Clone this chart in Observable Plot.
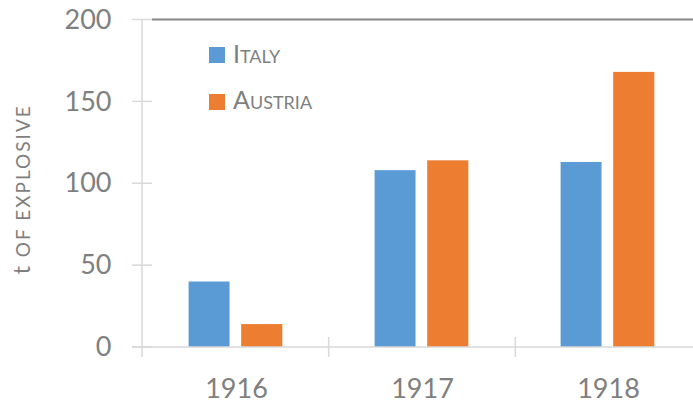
<!DOCTYPE html>
<html><head><meta charset="utf-8">
<script src="https://cdn.jsdelivr.net/npm/d3@7"></script>
<script src="https://cdn.jsdelivr.net/npm/@observablehq/plot@0.6"></script>
<style>
html,body{margin:0;padding:0;overflow:hidden;background:#fff;}
#wrap{position:relative;width:693px;height:401px;overflow:hidden;font-family:Lato, sans-serif;}
#wrap svg{max-width:none !important;}
.sw{position:absolute;width:16px;height:16px;}
.lt{position:absolute;font-size:25px;line-height:30px;font-variant:small-caps;color:#7f7f7f;white-space:nowrap;}
</style></head><body><div id="wrap"></div>
<script>
const years = ["1916", "1917", "1918"];
const italy = [40, 108, 113];
const austria = [14, 114, 168];
const seriesNames = ["Italy", "Austria"];
const seriesColors = ["#5B9BD5", "#ED7D31"];
const yTicks = [0, 50, 100, 150, 200];
const yLabelMain = "t";
const yLabelRest = " OF EXPLOSIVE";

const rows = [];
years.forEach((y, i) => {
  rows.push({year: y, series: seriesNames[0], value: italy[i]});
  rows.push({year: y, series: seriesNames[1], value: austria[i]});
});

const W = 702, H = 401, ML = 142, MT = 19.5, MB = 54;
const step = (W - ML) / years.length;

const plot = Plot.plot({
  width: W, height: H,
  marginLeft: ML, marginRight: 0, marginTop: MT, marginBottom: MB,
  style: {fontFamily: "Lato, sans-serif", color: "#7f7f7f", background: "transparent", overflow: "visible", maxWidth: "none"},
  x: {domain: years, padding: 0, label: null, axis: null},
  y: {domain: [0, 200], label: null, axis: null},
  marks: [
    Plot.barY(rows.filter(d => d.series === seriesNames[0]), {
      x: "year", y: "value", fill: seriesColors[0],
      insetLeft: 45.6, insetRight: step - 87.2
    }),
    Plot.barY(rows.filter(d => d.series === seriesNames[1]), {
      x: "year", y: "value", fill: seriesColors[1],
      insetLeft: 98.2, insetRight: step - 140
    }),
    Plot.axisY(yTicks, {tickSize: 0, tickPadding: 31, fontSize: 27, label: null}),
    Plot.axisX({tickSize: 0, tickPadding: 31, fontSize: 27, label: null})
  ]
});

document.getElementById("wrap").appendChild(plot);

// decorations using Plot's scales
const sxInfo = plot.scale("x"), syInfo = plot.scale("y");
const sy = d3.scaleLinear(syInfo.domain, syInfo.range);
const sx = d3.scaleBand(sxInfo.domain, sxInfo.range).padding(0);
const svg = d3.select(plot);
const g = svg.append("g").attr("stroke", "#d9d9d9").attr("stroke-width", 1.5).attr("fill", "none");
const x0 = sx.range()[0], x1 = sx.range()[1];
const y0 = sy(0);
// y axis line
g.append("line").attr("x1", x0).attr("x2", x0).attr("y1", sy(200)).attr("y2", y0 + 10);
// y ticks
yTicks.forEach(t => g.append("line").attr("x1", x0 - 10).attr("x2", x0 + 10).attr("y1", sy(t)).attr("y2", sy(t)));
// x axis line
g.append("line").attr("x1", x0 - 10).attr("x2", x1).attr("y1", y0).attr("y2", y0);
// band boundary ticks
years.forEach((yv, i) => {
  if (i === 0) return;
  const bx = sx(yv);
  g.append("line").attr("x1", bx).attr("x2", bx).attr("y1", y0 - 10).attr("y2", y0 + 10);
});
// top dark line
svg.append("line").attr("x1", x0 + 10).attr("x2", x1).attr("y1", sy(200)).attr("y2", sy(200))
  .attr("stroke", "#858585").attr("stroke-width", 2);
// y label
const lab = svg.append("text")
  .attr("transform", `translate(30,${(sy(0) + sy(200)) / 2 + 6}) rotate(-90)`)
  .attr("text-anchor", "middle").attr("fill", "#7f7f7f")
  .attr("font-family", "Lato, sans-serif").attr("letter-spacing", 2);
lab.append("tspan").attr("font-size", 23).text(yLabelMain);
lab.append("tspan").attr("font-size", 19).text(yLabelRest);

// legend
const wrap = document.getElementById("wrap");
const legTops = [47, 94], txtTops = [38, 84];
seriesNames.forEach((n, i) => {
  const sw = document.createElement("div");
  sw.className = "sw"; sw.style.left = "209px"; sw.style.top = legTops[i] + "px";
  sw.style.background = seriesColors[i];
  wrap.appendChild(sw);
  const t = document.createElement("div");
  t.className = "lt"; t.style.left = "233px"; t.style.top = txtTops[i] + "px";
  t.textContent = n;
  wrap.appendChild(t);
});
</script></body></html>
